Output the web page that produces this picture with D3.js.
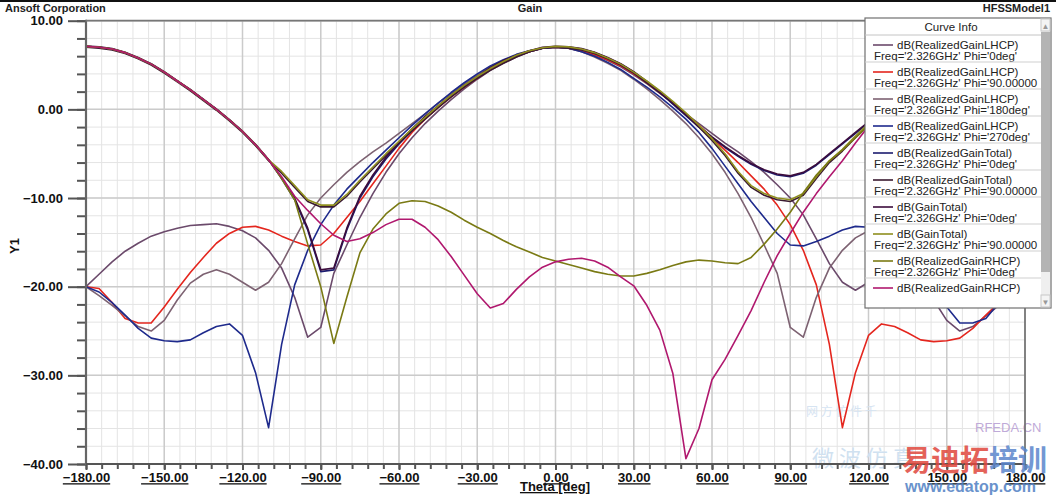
<!DOCTYPE html>
<html>
<head>
<meta charset="utf-8">
<script src="https://cdn.jsdelivr.net/npm/d3@7"></script>
<style>
body{margin:0;background:#fff;}
svg{display:block;font-family:"Liberation Sans",Arial,sans-serif;}
</style>
</head>
<body>
<script>
// theta in deg, 5 deg steps
const theta = d3.range(-180, 181, 5);

// values, dB, theta -180..180
const lhcp0 = [-20.0,-18.6,-17.2,-16.0,-15.1,-14.3,-13.8,-13.4,-13.1,-13.0,-12.9,-13.2,-13.7,-14.5,-15.9,-17.9,-21.2,-25.7,-24.6,-18.5,-15.3,-12.2,-9.5,-7.1,-5.0,-3.2,-1.6,-0.2,1.1,2.3,3.4,4.4,5.2,5.9,6.5,6.9,7.0,
  6.9,6.6,6.1,5.5,4.8,3.9,2.9,1.8,0.7,-0.5,-1.6,-2.7,-3.8,-4.8,-5.9,-7.1,-8.5,-10.0,-11.9,-14.6,-17.4,-19.5,-20.4,-19.5,-18.6,-18.1,-18.6,-19.6,-21.5,-23.8,-25.0,-24.5,-23.3,-22.1,-21.0,-20.0];
const lhcp90 = [-20.0,-20.2,-21.8,-23.6,-24.1,-24.1,-22.3,-20.3,-18.4,-16.7,-15.1,-14.0,-13.3,-13.2,-13.6,-14.3,-14.9,-15.4,-15.3,-14.0,-12.2,-10.4,-8.4,-6.4,-4.4,-2.6,-1.1,0.2,1.4,2.5,3.5,4.5,5.3,6.0,6.5,6.9,7.0,
  6.9,6.6,6.2,5.6,4.9,4.0,3.0,1.9,0.7,-0.5,-1.8,-3.2,-4.6,-6.0,-7.5,-9.0,-10.8,-13.0,-15.9,-19.8,-26.5,-35.9,-29.7,-25.5,-24.2,-24.5,-25.2,-26.0,-26.2,-26.1,-25.8,-24.7,-23.2,-21.8,-20.6,-20.0];
const lhcp180 = [-20.0,-21.0,-22.1,-23.3,-24.5,-25.0,-23.8,-21.5,-19.6,-18.6,-18.1,-18.6,-19.5,-20.4,-19.5,-17.4,-14.6,-11.9,-10.0,-8.5,-7.1,-5.9,-4.8,-3.8,-2.7,-1.6,-0.5,0.7,1.8,2.9,3.9,4.8,5.5,6.1,6.6,6.9,7.0,
  6.9,6.5,5.9,5.2,4.4,3.4,2.3,1.1,-0.2,-1.6,-3.2,-5.0,-7.1,-9.5,-12.2,-15.3,-18.5,-24.6,-25.7,-21.2,-17.9,-15.9,-14.5,-13.7,-13.2,-12.9,-13.0,-13.1,-13.4,-13.8,-14.3,-15.1,-16.0,-17.2,-18.6,-20.0];
const lhcp270 = [-20.0,-20.6,-21.8,-23.2,-24.7,-25.8,-26.1,-26.2,-26.0,-25.2,-24.5,-24.2,-25.5,-29.7,-35.9,-26.5,-19.8,-15.9,-13.0,-10.8,-9.0,-7.5,-6.0,-4.6,-3.2,-1.8,-0.5,0.7,1.9,3.0,4.0,4.9,5.6,6.2,6.6,6.9,7.0,
  6.9,6.5,6.0,5.3,4.5,3.5,2.5,1.4,0.2,-1.1,-2.6,-4.4,-6.4,-8.4,-10.4,-12.2,-14.0,-15.3,-15.4,-14.9,-14.3,-13.6,-13.2,-13.3,-14.0,-15.1,-16.7,-18.4,-20.3,-22.3,-24.1,-24.1,-23.6,-21.8,-20.2,-20.0];
const total0 = [7.1,7.0,6.8,6.4,5.8,5.1,4.2,3.2,2.2,1.1,0.0,-1.2,-2.5,-4.0,-5.7,-7.8,-10.2,-13.6,-18.3,-18.1,-13.6,-10.0,-7.6,-5.6,-3.9,-2.4,-1.0,0.3,1.5,2.6,3.6,4.6,5.4,6.0,6.5,6.9,7.05,
  7.0,6.8,6.4,5.8,5.1,4.2,3.1,1.9,0.6,-0.7,-2.0,-3.2,-4.3,-5.3,-6.2,-6.9,-7.4,-7.6,-7.2,-6.3,-5.1,-3.9,-2.7,-1.5,-0.3,0.9,2.0,3.0,3.9,4.7,5.4,6.0,6.5,6.8,7.0,7.1];
const total90 = [7.0,6.9,6.7,6.3,5.7,5.0,4.1,3.1,2.1,1.0,-0.1,-1.3,-2.6,-4.1,-5.8,-7.2,-8.8,-10.4,-11.0,-11.0,-9.8,-8.2,-6.7,-5.2,-3.8,-2.4,-1.1,0.2,1.4,2.5,3.5,4.4,5.2,5.9,6.5,6.9,7.0,
  6.9,6.7,6.3,5.7,5.0,4.1,3.0,1.9,0.7,-0.6,-2.0,-3.5,-5.2,-7.2,-8.8,-9.7,-10.2,-10.4,-9.7,-7.8,-6.0,-4.7,-3.2,-1.8,-0.6,0.6,1.7,2.7,3.6,4.4,5.1,5.7,6.2,6.6,6.9,7.0];
const gain0 = [7.15,7.05,6.85,6.45,5.85,5.15,4.25,3.25,2.25,1.15,0.05,-1.15,-2.45,-3.95,-5.65,-7.7,-10.0,-13.4,-18.1,-17.9,-13.4,-9.8,-7.4,-5.4,-3.7,-2.2,-0.8,0.4,1.6,2.7,3.7,4.7,5.5,6.1,6.6,7.0,7.1,
  7.05,6.85,6.45,5.85,5.15,4.25,3.15,1.95,0.7,-0.6,-1.9,-3.1,-4.2,-5.2,-6.1,-6.8,-7.3,-7.5,-7.1,-6.2,-5.0,-3.8,-2.6,-1.4,-0.2,1.0,2.1,3.1,4.0,4.8,5.5,6.1,6.6,6.9,7.1,7.15];
const gain90 = [7.1,7.0,6.8,6.4,5.8,5.1,4.2,3.2,2.2,1.1,0.0,-1.2,-2.5,-4.0,-5.7,-7.0,-8.6,-10.2,-10.8,-10.8,-9.6,-8.0,-6.5,-5.0,-3.6,-2.2,-0.9,0.4,1.6,2.7,3.7,4.6,5.4,6.1,6.6,6.95,7.1,
  7.05,6.8,6.4,5.8,5.1,4.2,3.2,2.1,0.9,-0.4,-1.8,-3.3,-5.0,-7.0,-8.6,-9.5,-10.0,-10.2,-9.5,-7.6,-5.8,-4.5,-3.0,-1.6,-0.4,0.8,1.9,2.9,3.8,4.6,5.3,5.9,6.4,6.8,7.0,7.1];
const rhcp0 = [7.1,7.0,6.8,6.4,5.8,5.1,4.2,3.2,2.2,1.1,0.0,-1.2,-2.5,-4.0,-5.7,-7.8,-10.2,-15.2,-20.0,-26.4,-21.2,-16.2,-13.5,-11.8,-10.6,-10.3,-10.4,-10.9,-11.6,-12.5,-13.3,-14.0,-14.8,-15.5,-16.1,-16.7,-17.1,
  -17.5,-17.9,-18.3,-18.6,-18.8,-18.8,-18.5,-18.1,-17.6,-17.2,-17.0,-17.1,-17.3,-17.4,-16.7,-15.2,-13.5,-11.6,-9.4,-7.4,-5.8,-4.6,-3.2,-1.8,-0.6,0.6,1.7,2.7,3.6,4.4,5.1,5.8,6.3,6.7,7.0,7.1];
const rhcp90 = [7.1,7.0,6.8,6.4,5.8,5.1,4.2,3.2,2.2,1.1,0.0,-1.2,-2.5,-4.0,-5.7,-7.6,-9.8,-11.4,-12.9,-14.2,-14.9,-14.6,-13.9,-13.0,-12.4,-12.4,-13.3,-14.7,-16.6,-18.7,-20.8,-22.4,-21.9,-20.3,-18.9,-17.8,-17.2,
  -16.9,-16.8,-17.1,-17.8,-18.9,-19.9,-22.1,-24.9,-29.8,-39.4,-36.0,-30.5,-28.2,-25.5,-22.7,-19.5,-16.5,-14.0,-11.6,-9.5,-7.6,-5.8,-3.8,-1.9,-0.4,0.9,2.0,3.0,3.9,4.6,5.3,5.9,6.4,6.8,7.0,7.1];

const curveNames = ["dB(RealizedGainLHCP)","dB(RealizedGainLHCP)","dB(RealizedGainLHCP)","dB(RealizedGainLHCP)",
  "dB(RealizedGainTotal)","dB(RealizedGainTotal)","dB(GainTotal)","dB(GainTotal)","dB(RealizedGainRHCP)","dB(RealizedGainRHCP)"];
const curveSubs = ["Freq='2.326GHz' Phi='0deg'","Freq='2.326GHz' Phi='90.00000","Freq='2.326GHz' Phi='180deg'","Freq='2.326GHz' Phi='270deg'",
  "Freq='2.326GHz' Phi='0deg'","Freq='2.326GHz' Phi='90.00000","Freq='2.326GHz' Phi='0deg'","Freq='2.326GHz' Phi='90.00000",
  "Freq='2.326GHz' Phi='0deg'",""];
const curveColors = ["#6b4a6b","#e4261e","#7d6272","#1e2a8c","#1c1c6e","#3a1a30","#3c0c3c","#8f8f1e","#7a7a14","#b0186e"];
const curveValues = [lhcp0,lhcp90,lhcp180,lhcp270,total0,total90,gain0,gain90,rhcp0,rhcp90];

const xTicks = d3.range(-180, 181, 30);
const yTicks = d3.range(-40, 11, 10);

const width = 1056, height = 495;
const svg = d3.select("body").append("svg")
  .attr("width", width)
  .attr("height", height);

const x = d3.scaleLinear().domain([-180, 180]).range([86, 1025]);
const y = d3.scaleLinear().domain([-40, 10]).range([464, 20.7]);

// frame line at very top
svg.append("rect").attr("x",0).attr("y",0).attr("width",width).attr("height",2).attr("fill","#111");

// header texts
svg.append("text").attr("x",5).attr("y",12).attr("font-size",11).attr("font-weight","bold").attr("fill","#222").text("Ansoft Corporation");
svg.append("text").attr("x",530).attr("y",12).attr("font-size",11).attr("font-weight","bold").attr("text-anchor","middle").attr("fill","#222").text("Gain");
svg.append("text").attr("x",1050).attr("y",12).attr("font-size",11).attr("font-weight","bold").attr("text-anchor","end").attr("fill","#222").text("HFSSModel1");

// grid
const grid = svg.append("g");
grid.selectAll(".vmin").data(d3.range(-180, 181, 6)).enter().append("line")
  .attr("x1", d => x(d)).attr("x2", d => x(d)).attr("y1", y(10)).attr("y2", y(-40))
  .attr("stroke", "#e4e4e4").attr("stroke-width", 1);
grid.selectAll(".hmin").data(d3.range(-40, 11, 2)).enter().append("line")
  .attr("x1", x(-180)).attr("x2", x(180)).attr("y1", d => y(d)).attr("y2", d => y(d))
  .attr("stroke", "#e4e4e4").attr("stroke-width", 1);
grid.selectAll(".vmaj").data(xTicks).enter().append("line")
  .attr("x1", d => x(d)).attr("x2", d => x(d)).attr("y1", y(10)).attr("y2", y(-40))
  .attr("stroke", "#cbcbcb").attr("stroke-width", 1.5);
grid.selectAll(".hmaj").data(yTicks).enter().append("line")
  .attr("x1", x(-180)).attr("x2", x(180)).attr("y1", d => y(d)).attr("y2", d => y(d))
  .attr("stroke", "#cbcbcb").attr("stroke-width", 1.5);

// watermark (faint, under curves)
const wm = svg.append("g");
wm.append("text").attr("x",812).attr("y",466).attr("font-size",22).attr("fill","#d0e1f0")
  .attr("font-family","Noto Sans CJK SC").text("微  波  仿  真");
wm.append("text").attr("x",806).attr("y",416).attr("font-size",12).attr("fill","#d6e4f2")
  .attr("font-family","Noto Sans CJK SC").text("网 方 仿 件 千");
wm.append("text").attr("x",975).attr("y",432).attr("font-size",13).attr("fill","#bfaad8").text("RFEDA.CN");

// curves
svg.append("clipPath").attr("id","plotclip").append("rect")
  .attr("x", x(-180)).attr("y", y(10)).attr("width", x(180)-x(-180)).attr("height", y(-40)-y(10));

const line = d3.line().x(d => x(d[0])).y(d => y(d[1]));
const curves = svg.append("g").attr("clip-path","url(#plotclip)");
curveValues.forEach((vals, i) => {
  curves.append("path")
    .datum(theta.map((t, k) => [t, vals[k]]))
    .attr("fill","none")
    .attr("stroke", curveColors[i])
    .attr("stroke-width", 1.6)
    .attr("stroke-linejoin","round")
    .attr("d", line);
});

// axes
const axisColor = "#555";
const yMinor = svg.append("g").attr("transform","translate(" + x(-180) + ",0)")
  .call(d3.axisLeft(y).tickValues(d3.range(-40, 11, 2)).tickSize(9).tickFormat(""));
const yMajor = svg.append("g").attr("transform","translate(" + x(-180) + ",0)")
  .call(d3.axisLeft(y).tickValues(yTicks).tickSize(18).tickPadding(5).tickFormat(d3.format(".2f")));
const xMinor = svg.append("g").attr("transform","translate(0," + y(-40) + ")")
  .call(d3.axisBottom(x).tickValues(d3.range(-180, 181, 6)).tickSize(5).tickFormat(""));
const xMajor = svg.append("g").attr("transform","translate(0," + y(-40) + ")")
  .call(d3.axisBottom(x).tickValues(xTicks).tickSize(6).tickPadding(3).tickFormat(d3.format(".2f")));

[yMinor, yMajor, xMinor, xMajor].forEach(g => {
  g.select(".domain").remove();
  g.selectAll(".tick line").attr("stroke", axisColor).attr("stroke-width", 2);
  g.selectAll("text").attr("fill","#111").attr("font-size",13).attr("font-weight","bold")
    .attr("font-family","Liberation Sans, Arial, sans-serif");
});
xMajor.selectAll("text").attr("text-decoration","underline");

// plot frame
svg.append("line").attr("x1",x(-180)).attr("x2",x(-180)).attr("y1",y(10)-1).attr("y2",y(-40)+1).attr("stroke","#666").attr("stroke-width",2.2);
svg.append("line").attr("x1",x(-180)).attr("x2",x(180)).attr("y1",y(-40)).attr("y2",y(-40)).attr("stroke","#555").attr("stroke-width",2);
svg.append("line").attr("x1",x(-180)).attr("x2",x(180)).attr("y1",y(10)).attr("y2",y(10)).attr("stroke","#777").attr("stroke-width",1.8);
svg.append("line").attr("x1",x(180)).attr("x2",x(180)).attr("y1",y(10)).attr("y2",y(-40)).attr("stroke","#666").attr("stroke-width",1.5);

// axis titles
svg.append("text").attr("x",555).attr("y",491).attr("text-anchor","middle").attr("font-size",13)
  .attr("font-weight","bold").attr("text-decoration","underline").attr("fill","#111").text("Theta [deg]");
svg.append("text").attr("transform","translate(19,246) rotate(-90)").attr("text-anchor","middle")
  .attr("font-size",13).attr("font-weight","bold").attr("fill","#111").text("Y1");

// legend
const lg = svg.append("g");
const lgX = 865, lgY = 18, lgW = 186, lgH = 290;
lg.append("rect").attr("x",lgX).attr("y",lgY).attr("width",lgW).attr("height",lgH)
  .attr("fill","#fff").attr("stroke","#707070").attr("stroke-width",1.2);
// scrollbar
lg.append("rect").attr("x",1041).attr("y",lgY+1).attr("width",9).attr("height",lgH-2).attr("fill","#efefef");
lg.append("rect").attr("x",1041).attr("y",lgY+14).attr("width",9).attr("height",240).attr("fill","#b4b4b4");
lg.append("rect").attr("x",1041).attr("y",lgY+1).attr("width",9).attr("height",12).attr("fill","#f4f4f4").attr("stroke","#c8c8c8");
lg.append("rect").attr("x",1041).attr("y",lgY+lgH-13).attr("width",9).attr("height",12).attr("fill","#f4f4f4").attr("stroke","#c8c8c8");
lg.append("text").attr("x",1045.5).attr("y",lgY+11).attr("text-anchor","middle").attr("font-size",8).attr("fill","#999").text("▲");
lg.append("text").attr("x",1045.5).attr("y",lgY+lgH-3).attr("text-anchor","middle").attr("font-size",8).attr("fill","#999").text("▼");

lg.append("text").attr("x",951).attr("y",31).attr("text-anchor","middle").attr("font-size",11.5).attr("fill","#222").text("Curve Info");
lg.append("line").attr("x1",lgX).attr("x2",1041).attr("y1",35).attr("y2",35).attr("stroke","#c4c4c4");

curveNames.forEach((name, i) => {
  const top = 35 + 27 * i;
  lg.append("line").attr("x1",873).attr("x2",893).attr("y1",top+10).attr("y2",top+10)
    .attr("stroke",curveColors[i]).attr("stroke-width",1.6);
  lg.append("text").attr("x",897).attr("y",top+13.5).attr("font-size",11.5).attr("fill","#222").text(name);
  if (curveSubs[i]) {
    lg.append("text").attr("x",874).attr("y",top+24.5).attr("font-size",11.5).attr("fill","#222").text(curveSubs[i]);
  }
  if (i < curveNames.length - 1) {
    lg.append("line").attr("x1",lgX).attr("x2",1041).attr("y1",top+27).attr("y2",top+27)
      .attr("stroke","#cfcfcf");
  }
});

// watermark on top (bottom right)
const wm2 = svg.append("g").attr("font-family","Noto Sans CJK SC").attr("font-weight","bold");
const big = wm2.append("text").attr("x",902).attr("y",471).attr("font-size",29).attr("opacity",0.85);
big.append("tspan").attr("fill","#e0473d").text("易迪拓");
big.append("tspan").attr("fill","#5b86cc").text("培训");
wm2.append("text").attr("x",905).attr("y",492).attr("font-size",16).attr("fill","#4f7fc4").attr("opacity",0.85)
  .attr("font-family","Liberation Sans, Arial, sans-serif").text("www.edatop.com");
</script>
</body>
</html>
